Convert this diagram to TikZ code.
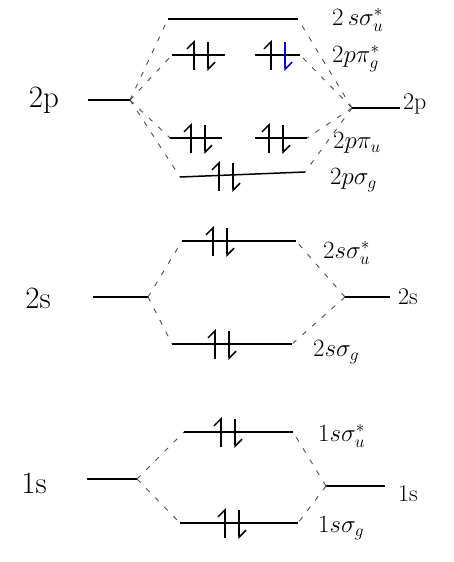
\documentclass[tikz,border=0pt]{standalone}
\usetikzlibrary{arrows.meta}
\begin{document}
\begin{tikzpicture}[x=1pt,y=-1pt,
  level/.style={line width=1.5pt},
  corr/.style={dash pattern=on 5pt off 8pt, line width=0.9pt, black!70},
  lab/.style={font=\fontsize{24}{27}\selectfont, anchor=west, inner sep=0pt},
  atom/.style={font=\fontsize{31}{34}\selectfont, inner sep=1pt},
  harp/.style={line width=1.5pt, -{Straight Barb[left,length=7pt,width=14pt]}},
  pair/.pic={\draw[harp] (-7,15) -- (-7,-15); \draw[harp] (7,-13) -- (7,16);},
  pairblue/.pic={\draw[harp] (-7,15) -- (-7,-15); \draw[harp, blue!75!black] (7,-13) -- (7,16);}]
\useasboundingbox (0,0) rectangle (453,562);

% ---- 2p block ----
\coordinate (L2pa) at (88,100);  \coordinate (L2pb) at (130,100);
\coordinate (R2pa) at (352,108); \coordinate (R2pb) at (400,108);
\coordinate (s2pua) at (168,19);  \coordinate (s2pub) at (298,19);
\coordinate (pg1a) at (172,55);  \coordinate (pg1b) at (225,55);
\coordinate (pg2a) at (255,55);  \coordinate (pg2b) at (300,55);
\coordinate (pu1a) at (170,138); \coordinate (pu1b) at (222,138);
\coordinate (pu2a) at (255,138); \coordinate (pu2b) at (307,138);
\coordinate (s2pga) at (180,177); \coordinate (s2pgb) at (305,172);

\draw[level] (L2pa) -- (L2pb);
\draw[level] (R2pa) -- (R2pb);
\draw[level] (s2pua) -- (s2pub);
\draw[level] (pg1a) -- (pg1b);
\draw[level] (pg2a) -- (pg2b);
\draw[level] (pu1a) -- (pu1b);
\draw[level] (pu2a) -- (pu2b);
\draw[level] (s2pga) -- (s2pgb);

\pic at (201,55) {pair};
\pic at (278,55) {pairblue};
\pic at (198,138) {pair};
\pic at (276,138) {pair};
\pic at (226,176) {pair};

\draw[corr] (L2pb) -- (s2pua);
\draw[corr] (L2pb) -- (pg1a);
\draw[corr] (L2pb) -- (pu1a);
\draw[corr] (L2pb) -- (s2pga);
\draw[corr] (R2pa) -- (s2pub);
\draw[corr] (R2pa) -- (pg2b);
\draw[corr] (R2pa) -- (pu2b);
\draw[corr] (R2pa) -- (s2pgb);

\node[atom] (t2pl) at (44,100) {2p};
\node[lab] (t2pr) at (403,104) {2p};
\node[lab] (t2su) at (332,20) {$2\,s\sigma_u^{*}$};
\node[lab] (t2pg) at (332,59) {$2p\pi_g^{*}$};
\node[lab] (t2pu) at (333,143) {$2p\pi_u$};
\node[lab] (t2pgs) at (330,180) {$2p\sigma_g$};

% ---- 2s block ----
\coordinate (L2sa) at (93,297);  \coordinate (L2sb) at (148,297);
\coordinate (R2sa) at (345,297); \coordinate (R2sb) at (390,297);
\coordinate (s2sua) at (182,241); \coordinate (s2sub) at (296,241);
\coordinate (s2sga) at (172,344); \coordinate (s2sgb) at (292,344);

\draw[level] (L2sa) -- (L2sb);
\draw[level] (R2sa) -- (R2sb);
\draw[level] (s2sua) -- (s2sub);
\draw[level] (s2sga) -- (s2sgb);
\pic at (220,241) {pair};
\pic at (222,344) {pair};

\draw[corr] (L2sb) -- (s2sua);
\draw[corr] (L2sb) -- (s2sga);
\draw[corr] (R2sa) -- (s2sub);
\draw[corr] (R2sa) -- (s2sgb);

\node[atom] (t2sl) at (38,298) {2s};
\node[lab] (t2sr) at (398,297) {2s};
\node[lab] (t2ssu) at (323,253) {$2s\sigma_u^{*}$};
\node[lab] (t2ssg) at (313,352) {$2s\sigma_g$};

% ---- 1s block ----
\coordinate (L1sa) at (87,479);  \coordinate (L1sb) at (137,479);
\coordinate (R1sa) at (326,486); \coordinate (R1sb) at (385,486);
\coordinate (s1sua) at (184,432); \coordinate (s1sub) at (293,432);
\coordinate (s1sga) at (180,523); \coordinate (s1sgb) at (298,523);

\draw[level] (L1sa) -- (L1sb);
\draw[level] (R1sa) -- (R1sb);
\draw[level] (s1sua) -- (s1sub);
\draw[level] (s1sga) -- (s1sgb);
\pic at (228,432) {pair};
\pic at (232,523) {pair};

\draw[corr] (L1sb) -- (s1sua);
\draw[corr] (L1sb) -- (s1sga);
\draw[corr] (R1sa) -- (s1sub);
\draw[corr] (R1sa) -- (s1sgb);

\node[atom] (t1sl) at (34,483) {1s};
\node[lab] (t1sr) at (398,494) {1s};
\node[lab] (t1ssu) at (318,436) {$1s\sigma_u^{*}$};
\node[lab] (t1ssg) at (318,528) {$1s\sigma_g$};
\end{tikzpicture}
\end{document}
